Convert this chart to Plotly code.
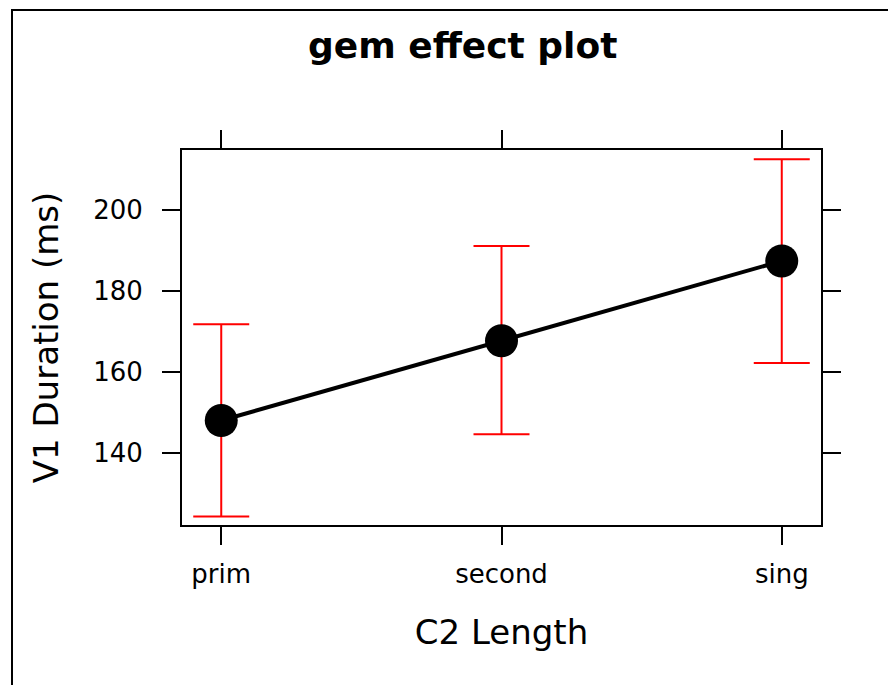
import plotly.graph_objects as go

# Effect estimates of C2 Length on V1 duration, with confidence limits
categories = ["prim", "second", "sing"]
fit = [148.0, 167.7, 187.4]
lower = [124.3, 144.6, 162.2]
upper = [171.8, 191.1, 212.5]
y_ticks = [140, 160, 180, 200]

W, H = 888, 685
ML, MR, MT, MB = 182, 67, 150, 160
plot_w = W - ML - MR
plot_h = H - MT - MB


def px_x(p):
    return (p - ML) / plot_w


def px_y(p):
    return (H - MB - p) / plot_h


xpos = list(range(len(categories)))
err_plus = [u - f for u, f in zip(upper, fit)]
err_minus = [f - l for f, l in zip(fit, lower)]

FONT = "DejaVu Sans"

fig = go.Figure()
fig.add_trace(go.Scatter(
    x=xpos,
    y=fit,
    mode="lines+markers",
    line=dict(color="black", width=4),
    marker=dict(color="black", size=33),
    error_y=dict(
        type="data",
        symmetric=False,
        array=err_plus,
        arrayminus=err_minus,
        color="red",
        thickness=2,
        width=28,
    ),
    showlegend=False,
    hoverinfo="skip",
))

axis_common = dict(
    showline=True,
    linecolor="black",
    linewidth=2,
    mirror="ticks",
    ticks="outside",
    ticklen=18,
    tickwidth=2,
    tickcolor="black",
    showgrid=False,
    zeroline=False,
    tickfont=dict(family=FONT, size=26, color="black"),
)

fig.update_xaxes(
    range=[-0.14, 2.14],
    tickvals=xpos,
    ticktext=categories,
    ticklabelstandoff=7,
    title=dict(text="C2 Length", font=dict(family=FONT, size=34, color="black"), standoff=32),
    **axis_common,
)
fig.update_yaxes(
    range=[122.2, 214.8],
    tickvals=y_ticks,
    ticklabelstandoff=14,
    title=dict(text="V1 Duration (ms)", font=dict(family=FONT, size=34, color="black"), standoff=24),
    **axis_common,
)

# Outer frame around the whole panel
fig.add_shape(
    type="rect",
    xref="paper", yref="paper",
    x0=px_x(12), x1=px_x(W + 20),
    y0=px_y(H + 20), y1=px_y(10),
    line=dict(color="black", width=2),
    fillcolor="rgba(0,0,0,0)",
    layer="below",
)

fig.add_annotation(
    text="<b>gem effect plot</b>",
    xref="paper", yref="paper",
    x=px_x(462), y=px_y(46),
    xanchor="center", yanchor="middle",
    showarrow=False,
    font=dict(family=FONT, size=36, color="black"),
)

fig.update_layout(
    width=W,
    height=H,
    autosize=False,
    margin=dict(l=ML, r=MR, t=MT, b=MB),
    paper_bgcolor="white",
    plot_bgcolor="white",
    font=dict(family=FONT, color="black"),
)

fig.write_html("out.html")
